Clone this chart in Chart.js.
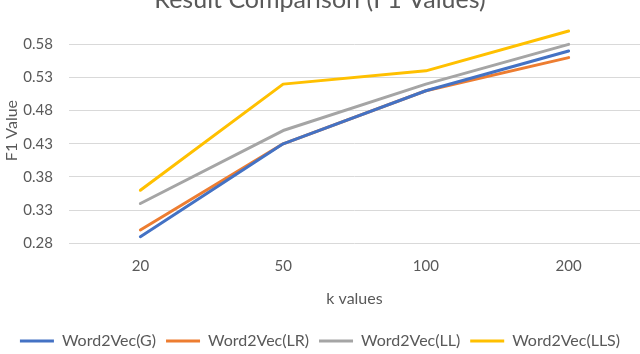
<!DOCTYPE html>
<html>
<head>
<meta charset="utf-8">
<title>Result Comparison (F1 Values)</title>
<script src="https://cdn.jsdelivr.net/npm/chart.js@4.4.1/dist/chart.umd.min.js"></script>
<style>
    html, body { margin: 0; padding: 0; background: #fff; overflow: hidden; }
    /* the reference is cropped through the title, so the canvas starts above the page */
    #wrap { position: absolute; left: 0; top: -18px; width: 640px; height: 377px; }
</style>
</head>
<body>
<div id="wrap"><canvas id="f1-chart"></canvas></div>
<script>
var kValues = ["20", "50", "100", "200"];
var yTicks = [0.28, 0.33, 0.38, 0.43, 0.48, 0.53, 0.58];
var w2vG = [0.29, 0.43, 0.51, 0.57];
var w2vLR = [0.30, 0.43, 0.51, 0.56];
var w2vLL = [0.34, 0.45, 0.52, 0.58];
var w2vLLS = [0.36, 0.52, 0.54, 0.60];

Chart.defaults.font.family = "Lato, 'Open Sans', sans-serif";
Chart.defaults.color = "#595959";

function series(label, data, color) {
    return {
        label: label,
        data: data,
        borderColor: color,
        backgroundColor: color,
        borderWidth: 3,
        borderCapStyle: 'round',
        borderJoinStyle: 'round',
        pointRadius: 0,
        tension: 0,
        fill: false
    };
}

var f1Chart = new Chart(document.getElementById("f1-chart"), {
    type: 'line',
    data: {
        labels: kValues,
        datasets: [
            series("Word2Vec(G)", w2vG, "#4472C4"),
            series("Word2Vec(LR)", w2vLR, "#ED7D31"),
            series("Word2Vec(LL)", w2vLL, "#A5A5A5"),
            series("Word2Vec(LLS)", w2vLLS, "#FFC000")
        ]
    },
    options: {
        responsive: true,
        maintainAspectRatio: false,
        animation: false,
        layout: { padding: 0 },
        plugins: {
            title: {
                display: true,
                text: "Result Comparison (F1 Values)",
                font: { size: 25, weight: 'normal' },
                padding: { top: 2.5, bottom: 3.3 }
            },
            legend: {
                position: 'bottom',
                labels: {
                    usePointStyle: true,
                    pointStyle: 'line',
                    pointStyleWidth: 34,
                    font: { size: 16 },
                    padding: 10
                }
            },
            tooltip: { enabled: false }
        },
        scales: {
            x: {
                offset: true,
                grid: { display: false, drawTicks: false },
                border: { display: false },
                ticks: { padding: 14, font: { size: 15 } },
                title: { display: true, text: "k values", font: { size: 16 }, padding: { top: 0, bottom: 14.4 } },
                afterFit: function(scale) { scale.height = 79.7; }
            },
            y: {
                min: 0.28,
                max: 0.62,
                afterBuildTicks: function(axis) {
                    axis.ticks = yTicks.map(function(v) { return { value: v }; });
                },
                grid: { color: "#D9D9D9", drawTicks: false },
                border: { display: false },
                ticks: {
                    padding: 16,
                    font: { size: 15 },
                    callback: function(v) { return v.toFixed(2); }
                },
                title: { display: true, text: "F1 Value", font: { size: 16 }, padding: { top: 2.4, bottom: 2 } },
                afterFit: function(scale) { scale.width = 69; }
            }
        }
    }
});
</script>
</body>
</html>
